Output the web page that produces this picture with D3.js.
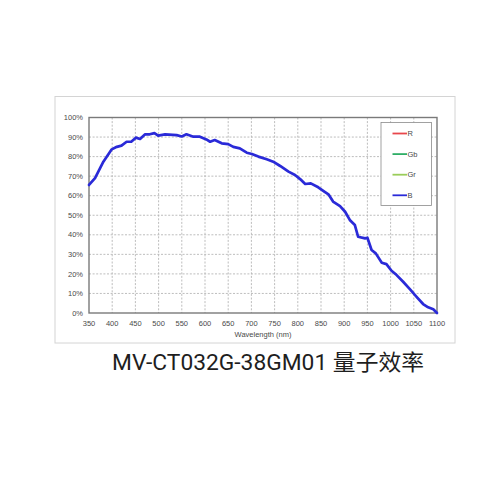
<!DOCTYPE html>
<html>
<head>
<meta charset="utf-8">
<script src="https://cdn.jsdelivr.net/npm/d3@7"></script>
<style>
  html, body { margin: 0; padding: 0; background: #fff; }
  svg { display: block; }
  .tick-label { font-family: "Liberation Sans", Arial, sans-serif; font-size: 7.5px; fill: #4a4a4a; }
  .grid line { stroke: #b5b5b5; stroke-width: 0.9; stroke-dasharray: 2 1.6; }
</style>
</head>
<body>
<div id="chart"></div>
<script>
const width = 500;
const height = 500;

// wavelength (nm) and quantum efficiency (%)
const wavelengths = [350, 363, 381, 399, 410, 420, 431, 441, 451, 460, 471, 481, 491, 499, 514, 539, 550, 560, 575, 589,
  603, 611, 621, 636, 650, 661, 675, 690, 701, 715, 733, 747, 762, 780, 794, 805, 816, 828, 844, 858,
  866, 876, 891, 902, 912, 923, 930, 945, 950, 959, 968, 981, 991, 1002, 1013, 1027, 1042, 1056, 1070, 1081, 1092, 1100];
const qeB = [65.5, 69, 77.4, 83.7, 85, 85.6, 87.6, 87.6, 89.7, 89, 91.4, 91.4, 92, 90.7, 91.4, 91, 90.3, 91.4, 90.2, 90.2,
  88.8, 87.6, 88.5, 86.8, 86.4, 85, 84.2, 82, 81.3, 80, 78.6, 77.4, 75.2, 72.3, 70.6, 68.5, 66, 66.3, 64.3, 62,
  60.7, 57, 54.7, 51.8, 47.6, 45, 39, 38.2, 38.5, 32.2, 30.5, 25.7, 25, 21.6, 19.4, 16, 12.1, 8.3, 4.6, 2.9, 1.9, 0];

const xTicks = d3.range(350, 1101, 50);
const yTicks = d3.range(0, 101, 10);

const legendNames = ["R", "Gb", "Gr", "B"];
const legendColors = ["#e8474c", "#2fae66", "#9acd5a", "#2a2ad8"];

const titleText = "MV-CT032G-38GM01 量子效率";
const xLabel = "Wavelength (nm)";

const svg = d3.select("#chart")
  .append("svg")
  .attr("width", width)
  .attr("height", height);

// outer image frame
svg.append("rect")
  .attr("x", 55).attr("y", 96.5)
  .attr("width", 400).attr("height", 246.5)
  .attr("fill", "none")
  .attr("stroke", "#d4d4d4")
  .attr("stroke-width", 1);

const x = d3.scaleLinear().domain([350, 1100]).range([89, 437]);
const y = d3.scaleLinear().domain([0, 100]).range([313, 117.5]);

const grid = svg.append("g").attr("class", "grid");

grid.selectAll(".vgrid")
  .data(xTicks.slice(1, -1))
  .join("line")
  .attr("x1", d => x(d)).attr("x2", d => x(d))
  .attr("y1", y(100)).attr("y2", y(0));

grid.selectAll(".hgrid")
  .data(yTicks.slice(1, -1))
  .join("line")
  .attr("x1", x(350)).attr("x2", x(1100))
  .attr("y1", d => y(d)).attr("y2", d => y(d));

// plot frame
svg.append("rect")
  .attr("x", x(350)).attr("y", y(100))
  .attr("width", x(1100) - x(350))
  .attr("height", y(0) - y(100))
  .attr("fill", "none")
  .attr("stroke", "#7a7a7a")
  .attr("stroke-width", 1.4);

svg.selectAll(".xlab")
  .data(xTicks)
  .join("text")
  .attr("class", "tick-label")
  .attr("x", d => x(d))
  .attr("y", 326)
  .attr("text-anchor", "middle")
  .text(d => d);

svg.selectAll(".ylab")
  .data(yTicks)
  .join("text")
  .attr("class", "tick-label")
  .attr("x", 83)
  .attr("y", d => y(d) + 2.6)
  .attr("text-anchor", "end")
  .text(d => d + "%");

svg.append("text")
  .attr("class", "tick-label")
  .attr("x", 263)
  .attr("y", 337)
  .attr("text-anchor", "middle")
  .text(xLabel);

const line = d3.line()
  .x((d, i) => x(wavelengths[i]))
  .y(d => y(d));

svg.append("path")
  .datum(qeB)
  .attr("fill", "none")
  .attr("stroke", legendColors[3])
  .attr("stroke-width", 2.7)
  .attr("stroke-linejoin", "round")
  .attr("stroke-linecap", "round")
  .attr("d", line);

// legend
const legend = svg.append("g");

legend.append("rect")
  .attr("x", 381).attr("y", 122.5)
  .attr("width", 50.5).attr("height", 83)
  .attr("fill", "#fff")
  .attr("stroke", "#8a8a8a")
  .attr("stroke-width", 0.8);

legendNames.forEach((name, i) => {
  const ly = 133.5 + i * 20.6;
  legend.append("line")
    .attr("x1", 392.5).attr("x2", 407)
    .attr("y1", ly).attr("y2", ly)
    .attr("stroke", legendColors[i])
    .attr("stroke-width", 1.8);
  legend.append("text")
    .attr("class", "tick-label")
    .attr("x", 407.5)
    .attr("y", ly + 2.6)
    .text(name);
});

svg.append("text")
  .attr("x", 112)
  .attr("y", 370)
  .attr("textLength", 312)
  .attr("lengthAdjust", "spacingAndGlyphs")
  .attr("font-family", "Roboto, 'Noto Sans CJK SC', sans-serif")
  .attr("font-size", 21.5)
  .attr("fill", "#1e1e1e")
  .text(titleText);
</script>
</body>
</html>
